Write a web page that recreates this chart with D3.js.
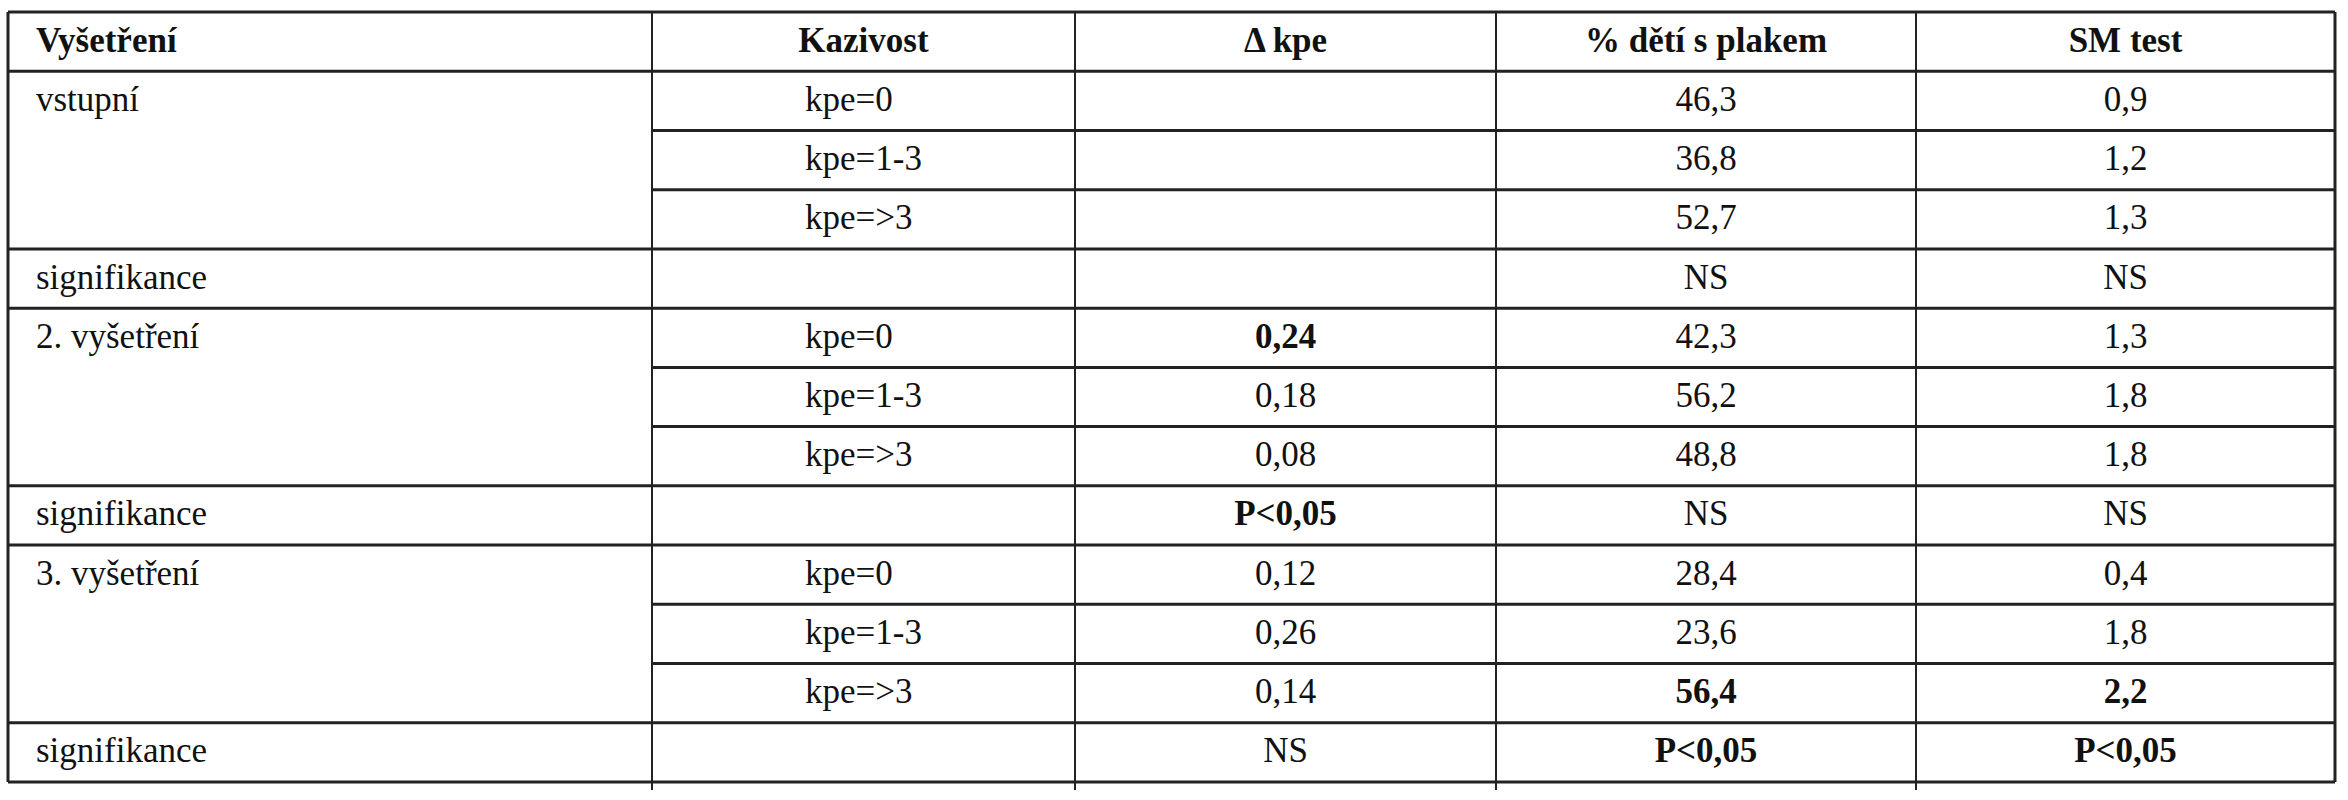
<!DOCTYPE html>
<html><head><meta charset="utf-8">
<script src="https://cdn.jsdelivr.net/npm/d3@7"></script>
<style>body{margin:0;background:#fff}</style></head>
<body><svg id="c" width="2348" height="800"></svg>
<script>
const headers = ["Vyšetření","Kazivost","\u0394  kpe","% dětí s plakem","SM test"];
const groups = ["vstupní","signifikance","2. vyšetření","signifikance","3. vyšetření","signifikance"];
const groupSizes = [3,1,3,1,3,1];
const kazivost = ["kpe=0","kpe=1-3","kpe=>3","","kpe=0","kpe=1-3","kpe=>3","","kpe=0","kpe=1-3","kpe=>3",""];
const deltaKpe = ["","","","","0,24","0,18","0,08","P<0,05","0,12","0,26","0,14","NS"];
const plak = ["46,3","36,8","52,7","NS","42,3","56,2","48,8","NS","28,4","23,6","56,4","P<0,05"];
const smTest = ["0,9","1,2","1,3","NS","1,3","1,8","1,8","NS","0,4","1,8","2,2","P<0,05"];
const boldCells = [[4,2],[7,2],[10,3],[11,3],[10,4],[11,4]];

const svg = d3.select("#c");
const colEdges = [8,652,1075,1496,1916,2335];
const nRows = 13;
const y = d3.scaleLinear().domain([0,nRows]).range([12,782]);
const font = "'Liberation Serif', 'DejaVu Serif', serif";
const fs = 35;
function txt(x,row,s,anchor,bold){
  svg.append("text").attr("x",x).attr("y",(y(row)+y(row+1))/2+10)
   .attr("text-anchor",anchor).attr("font-family",font).attr("font-size",fs)
   .attr("font-weight",bold?"bold":"normal").attr("fill","#111").text(s);
}
const cx = i => (colEdges[i]+colEdges[i+1])/2;
headers.forEach((h,i)=> i===0 ? txt(36,0,h,"start",true) : txt(cx(i),0,h,"middle",true));
let r=1;
const groupStart=[];
groups.forEach((g,i)=>{groupStart.push(r); txt(36,r,g,"start",false); r+=groupSizes[i];});
const isBold=(ri,ci)=>boldCells.some(b=>b[0]===ri&&b[1]===ci);
kazivost.forEach((v,ri)=>{ if(v) txt(805,ri+1,v,"start",false); });
[deltaKpe,plak,smTest].forEach((arr,k)=>{
  arr.forEach((v,ri)=>{ if(v) txt(cx(k+2),ri+1,v,"middle",isBold(ri,k+2)); });
});
const line=(x1,y1,x2,y2,w)=>svg.append("line").attr("x1",x1).attr("y1",y1).attr("x2",x2).attr("y2",y2).attr("stroke","#222").attr("stroke-width",w);
for(let k=0;k<=nRows;k++){
  const full = k===0||k===1||k===nRows||groupStart.includes(k);
  line(full?colEdges[0]:colEdges[1], y(k), colEdges[5], y(k), 3);
}
colEdges.forEach((x,i)=>line(x,y(0),x,y(nRows)+(i>0&&i<5?8:0),i===0||i===5?3:2));
</script></body></html>
